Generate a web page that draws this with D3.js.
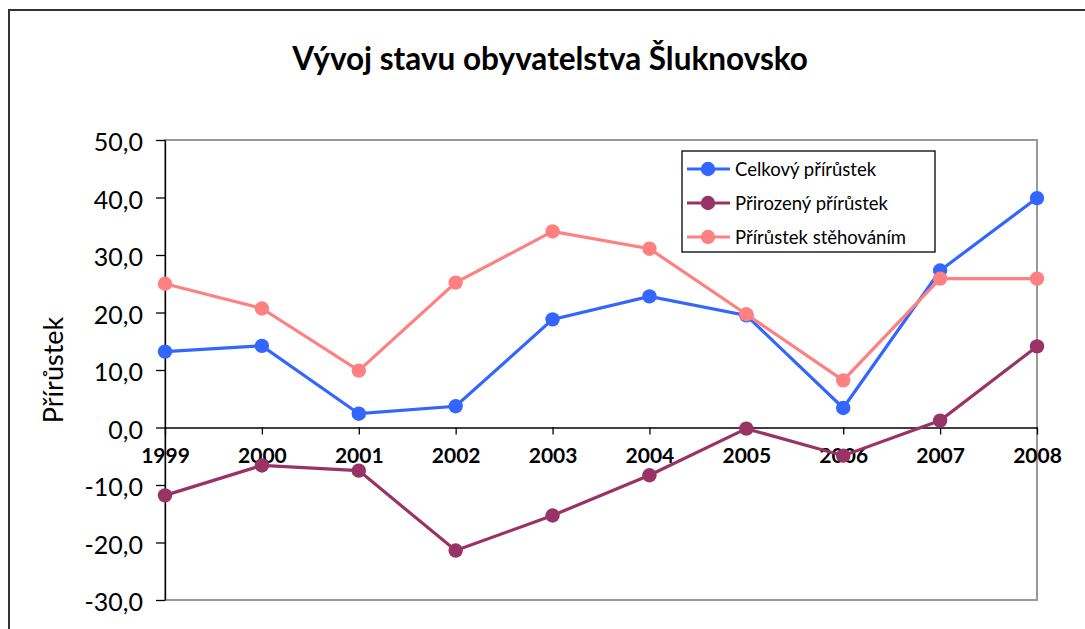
<!DOCTYPE html>
<html>
<head>
<meta charset="utf-8">
<script src="https://cdn.jsdelivr.net/npm/d3@7"></script>
<style>
    body { margin: 0; background: #fff; }
    text { font-family: Lato, "Open Sans", sans-serif; fill: #000; }
</style>
</head>
<body>
<div id="main"></div>
<script>
/// data ///
const years = [1999, 2000, 2001, 2002, 2003, 2004, 2005, 2006, 2007, 2008];
const celkovy = [13.2, 14.2, 2.4, 3.7, 18.8, 22.8, 19.5, 3.4, 27.3, 39.9];
const prirozeny = [-11.8, -6.6, -7.5, -21.4, -15.3, -8.3, -0.2, -4.9, 1.2, 14.1];
const stehovanim = [25.0, 20.7, 9.9, 25.2, 34.1, 31.1, 19.7, 8.2, 25.9, 25.9];
const seriesNames = ['Celkový přírůstek', 'Přirozený přírůstek', 'Přírůstek stěhováním'];
const yTicks = [-30, -20, -10, 0, 10, 20, 30, 40, 50];

const colors = ['#3366ff', '#993366', '#ff8080'];

// specs of the svg frame //
const w = 1085;
const h = 629;
const plot = { left: 165, right: 1037, top: 140, bottom: 600 };

let svg = d3.select('#main')
    .append('svg')
    .attr('width', w)
    .attr('height', h);

// outer chart frame (right / bottom edges fall outside the view)
svg.append('rect')
    .attr('x', 9)
    .attr('y', 10)
    .attr('width', w + 20)
    .attr('height', h + 20)
    .attr('fill', '#fff')
    .attr('stroke', '#333')
    .attr('stroke-width', 2);

// title
svg.append('text')
    .attr('x', 550)
    .attr('y', 70)
    .style('text-anchor', 'middle')
    .style('font-weight', 'bold')
    .style('font-size', '31.5px')
    .text('Vývoj stavu obyvatelstva Šluknovsko');

// scales //
let xScale = d3.scaleLinear()
    .domain([years[0], years[years.length - 1]])
    .range([plot.left, plot.right]);

let yScale = d3.scaleLinear()
    .domain([-30, 50])
    .range([plot.bottom, plot.top]);

// plot area border
svg.append('rect')
    .attr('x', plot.left)
    .attr('y', plot.top)
    .attr('width', plot.right - plot.left)
    .attr('height', plot.bottom - plot.top)
    .attr('fill', 'none')
    .attr('stroke', '#999')
    .attr('stroke-width', 2);

// y axis
const czLocale = d3.formatLocale({ decimal: ',', thousands: ' ', grouping: [3], currency: ['', ''], minus: '-' });
let yAxis = d3.axisLeft(yScale)
    .tickValues(yTicks)
    .tickFormat(czLocale.format('.1f'))
    .tickSize(9)
    .tickSizeOuter(0)
    .tickPadding(13);

let gy = svg.append('g')
    .attr('transform', 'translate(' + plot.left + ',0)')
    .call(yAxis);
gy.selectAll('path, line').attr('stroke', '#000').attr('stroke-width', 1.3);
gy.selectAll('text')
    .style('font-size', '25px')
    .attr('dy', '0.42em');

// x axis sits on zero
let xAxis = d3.axisBottom(xScale)
    .tickValues(years)
    .tickFormat(d3.format('d'))
    .tickSize(7)
    .tickSizeOuter(0);

let gx = svg.append('g')
    .attr('transform', 'translate(0,' + yScale(0) + ')')
    .call(xAxis);
gx.selectAll('path, line').attr('stroke', '#000').attr('stroke-width', 1.3);
gx.selectAll('text')
    .attr('y', 35)
    .attr('dy', null)
    .style('font-size', '21px')
    .style('font-weight', 'bold');

// y label
svg.append('text')
    .attr('transform', 'translate(63,370) rotate(-90)')
    .style('text-anchor', 'middle')
    .style('font-size', '27px')
    .text('Přírůstek');

// lines + markers //
const allSeries = [celkovy, prirozeny, stehovanim];
let line = d3.line()
    .x((d, i) => xScale(years[i]))
    .y(d => yScale(d));

allSeries.forEach((vals, k) => {
    svg.append('path')
        .datum(vals)
        .attr('d', line)
        .attr('fill', 'none')
        .attr('stroke', colors[k])
        .attr('stroke-width', 3.2);

    svg.selectAll('.dot' + k)
        .data(vals)
        .enter()
        .append('circle')
        .attr('class', 'dot' + k)
        .attr('cx', (d, i) => xScale(years[i]))
        .attr('cy', d => yScale(d))
        .attr('r', 7.2)
        .attr('fill', colors[k]);
});

/// legend ///
let legend = svg.append('g').attr('transform', 'translate(682,151)');
legend.append('rect')
    .attr('width', 253)
    .attr('height', 101)
    .attr('fill', '#fff')
    .attr('stroke', '#000')
    .attr('stroke-width', 1.3);

seriesNames.forEach((name, k) => {
    let yy = 18 + k * 34;
    legend.append('line')
        .attr('x1', 5).attr('x2', 48)
        .attr('y1', yy).attr('y2', yy)
        .attr('stroke', colors[k])
        .attr('stroke-width', 3.2);
    legend.append('circle')
        .attr('cx', 26).attr('cy', yy)
        .attr('r', 7.2)
        .attr('fill', colors[k]);
    legend.append('text')
        .attr('x', 53)
        .attr('y', yy + 6.5)
        .style('font-size', '18.5px')
        .text(name);
});
</script>
</body>
</html>
